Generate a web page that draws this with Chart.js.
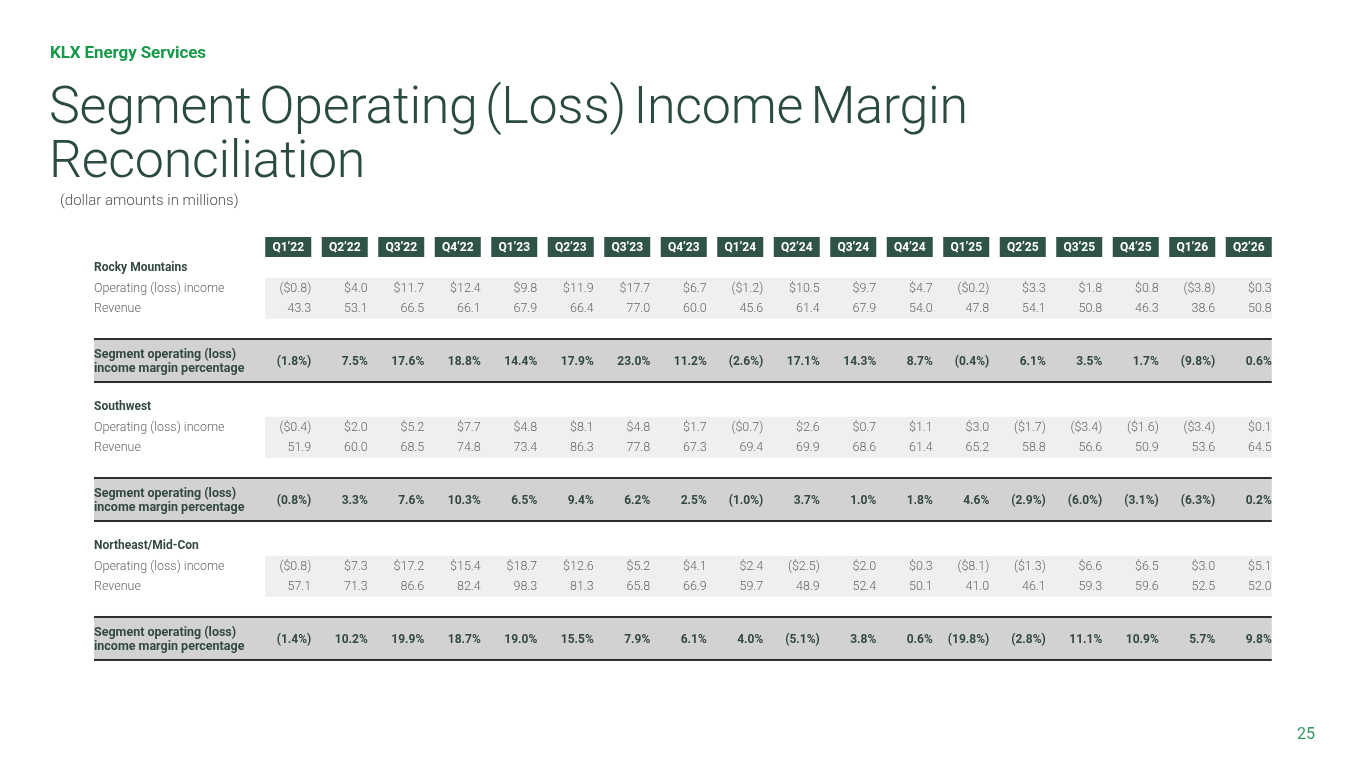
<!DOCTYPE html>
<html>
<head>
<meta charset="utf-8">
<script src="https://cdn.jsdelivr.net/npm/chart.js@4.4.1/dist/chart.umd.min.js"></script>
<style>
  html, body { margin: 0; padding: 0; background: #fff; }
  body { width: 1365px; height: 768px; position: relative; overflow: hidden; font-family: Roboto, sans-serif; }
  #wrap { position: absolute; left: 0; top: 0; width: 1365px; height: 768px; }
  .brand { position: absolute; left: 50px; top: 42px; font: 700 17px Roboto, sans-serif; color: #17994a; letter-spacing: -0.1px; }
  .title { position: absolute; left: 49px; top: 79px; font: 300 52px/54px Roboto, sans-serif; color: #2b4a42; letter-spacing: -0.3px; word-spacing: -5px; margin: 0; }
  .sub { position: absolute; left: 60px; top: 191px; font: 300 15px Roboto, sans-serif; color: #555; }
  .page { position: absolute; left: 1297px; top: 724px; font: 400 16px Roboto, sans-serif; color: #2f9a5c; }
</style>
</head>
<body>
<div id="wrap"><canvas id="myChart"></canvas></div>
<div class="brand">KLX Energy Services</div>
<h1 class="title">Segment Operating (Loss) Income Margin<br>Reconciliation</h1>
<div class="sub">(dollar amounts in millions)</div>
<div class="page">25</div>
<script>
const quarters = ['Q1’22', 'Q2’22', 'Q3’22', 'Q4’22', 'Q1’23', 'Q2’23', 'Q3’23', 'Q4’23', 'Q1’24',
  'Q2’24', 'Q3’24', 'Q4’24', 'Q1’25', 'Q2’25', 'Q3’25', 'Q4’25', 'Q1’26', 'Q2’26']
const segments = ['Rocky Mountains', 'Southwest', 'Northeast/Mid-Con']

// $ millions
const rockyOpIncome = [-0.8, 4.0, 11.7, 12.4, 9.8, 11.9, 17.7, 6.7, -1.2, 10.5, 9.7, 4.7, -0.2, 3.3, 1.8, 0.8, -3.8, 0.3]
const rockyRevenue = [43.3, 53.1, 66.5, 66.1, 67.9, 66.4, 77.0, 60.0, 45.6, 61.4, 67.9, 54.0, 47.8, 54.1, 50.8, 46.3, 38.6, 50.8]
const rockyMargin = [-1.8, 7.5, 17.6, 18.8, 14.4, 17.9, 23.0, 11.2, -2.6, 17.1, 14.3, 8.7, -0.4, 6.1, 3.5, 1.7, -9.8, 0.6]

const swOpIncome = [-0.4, 2.0, 5.2, 7.7, 4.8, 8.1, 4.8, 1.7, -0.7, 2.6, 0.7, 1.1, 3.0, -1.7, -3.4, -1.6, -3.4, 0.1]
const swRevenue = [51.9, 60.0, 68.5, 74.8, 73.4, 86.3, 77.8, 67.3, 69.4, 69.9, 68.6, 61.4, 65.2, 58.8, 56.6, 50.9, 53.6, 64.5]
const swMargin = [-0.8, 3.3, 7.6, 10.3, 6.5, 9.4, 6.2, 2.5, -1.0, 3.7, 1.0, 1.8, 4.6, -2.9, -6.0, -3.1, -6.3, 0.2]

const neOpIncome = [-0.8, 7.3, 17.2, 15.4, 18.7, 12.6, 5.2, 4.1, 2.4, -2.5, 2.0, 0.3, -8.1, -1.3, 6.6, 6.5, 3.0, 5.1]
const neRevenue = [57.1, 71.3, 86.6, 82.4, 98.3, 81.3, 65.8, 66.9, 59.7, 48.9, 52.4, 50.1, 41.0, 46.1, 59.3, 59.6, 52.5, 52.0]
const neMargin = [-1.4, 10.2, 19.9, 18.7, 19.0, 15.5, 7.9, 6.1, 4.0, -5.1, 3.8, 0.6, -19.8, -2.8, 11.1, 10.9, 5.7, 9.8]

const opIncome = [rockyOpIncome, swOpIncome, neOpIncome]
const revenue = [rockyRevenue, swRevenue, neRevenue]
const margin = [rockyMargin, swMargin, neMargin]

const money = v => v < 0 ? '($' + Math.abs(v).toFixed(1) + ')' : '$' + v.toFixed(1)
const pct = v => v < 0 ? '(' + Math.abs(v).toFixed(1) + '%)' : v.toFixed(1) + '%'

// row positions in "row units" on the y scale (header row = 0)
const ROW_PX = 20.5
const HEADER_Y = 247
const blockStart = b => 1.02 + b * 6.78
const LABEL_X = 94

const dark = '#33483f'
const grey = '#666666'

const tablePlugin = {
  id: 'segmentTable',
  beforeDraw(chart) {
    const { ctx, scales: { x, y } } = chart
    const n = quarters.length
    const first = x.getPixelForValue(0)
    const last = x.getPixelForValue(n - 1)
    ctx.save()
    ctx.textBaseline = 'middle'

    // header boxes
    const hy = y.getPixelForValue(0)
    quarters.forEach((q, i) => {
      const cx = x.getPixelForValue(i)
      ctx.fillStyle = '#2f5446'
      ctx.fillRect(cx - 23, hy - 10, 46, 20)
      ctx.fillStyle = '#ffffff'
      ctx.font = '700 12px Roboto'
      ctx.textAlign = 'center'
      ctx.fillText(q, cx, hy + 0.5)
    })

    segments.forEach((seg, b) => {
      const base = blockStart(b)
      const ySeg = y.getPixelForValue(base)
      const yOp = y.getPixelForValue(base + 1.02)
      const yRev = y.getPixelForValue(base + 2.0)
      const yMar = y.getPixelForValue(base + 4.59)

      // bands
      ctx.fillStyle = '#efefef'
      ctx.fillRect(first - 23, yOp - 11, last - first + 46, yRev - yOp + 21)
      ctx.fillStyle = '#d2d2d2'
      ctx.fillRect(LABEL_X, yMar - 23, last + 23 - LABEL_X, 43)
      ctx.fillStyle = '#2e2e2e'
      ctx.fillRect(LABEL_X, yMar - 24, last + 23 - LABEL_X, 2)
      ctx.fillRect(LABEL_X, yMar + 19, last + 23 - LABEL_X, 2)

      // row labels
      ctx.textAlign = 'left'
      ctx.fillStyle = dark
      ctx.font = '700 12px Roboto'
      ctx.fillText(seg, LABEL_X, ySeg)
      ctx.fillStyle = grey
      ctx.font = '300 12.5px Roboto'
      ctx.fillText('Operating (loss) income', LABEL_X, yOp)
      ctx.fillText('Revenue', LABEL_X, yRev)
      ctx.fillStyle = dark
      ctx.font = '700 12.5px Roboto'
      ctx.fillText('Segment operating (loss)', LABEL_X, yMar - 7)
      ctx.fillText('income margin percentage', LABEL_X, yMar + 7)

      // cells
      ctx.textAlign = 'right'
      quarters.forEach((q, i) => {
        const cx = x.getPixelForValue(i) + 23
        ctx.fillStyle = grey
        ctx.font = '300 12.5px Roboto'
        ctx.fillText(money(opIncome[b][i]), cx, yOp)
        ctx.fillText(revenue[b][i].toFixed(1), cx, yRev)
        ctx.fillStyle = dark
        ctx.font = '700 12px Roboto'
        ctx.fillText(pct(margin[b][i]), cx, yMar)
      })
    })
    ctx.restore()
  }
}

const ctx = document.getElementById('myChart')

const myChart = new Chart(ctx, {
  type: 'bar',
  data: {
    labels: quarters,
    datasets: []
  },
  options: {
    responsive: true,
    maintainAspectRatio: false,
    animation: false,
    layout: { padding: { left: 260, right: 88, top: 0, bottom: 0 } },
    scales: {
      x: { type: 'category', display: false, offset: true },
      y: {
        type: 'linear', display: false, reverse: true,
        min: -HEADER_Y / ROW_PX,
        max: (768 - HEADER_Y) / ROW_PX
      }
    },
    plugins: {
      legend: { display: false },
      tooltip: { enabled: false }
    }
  },
  plugins: [tablePlugin]
})
</script>
</body>
</html>
